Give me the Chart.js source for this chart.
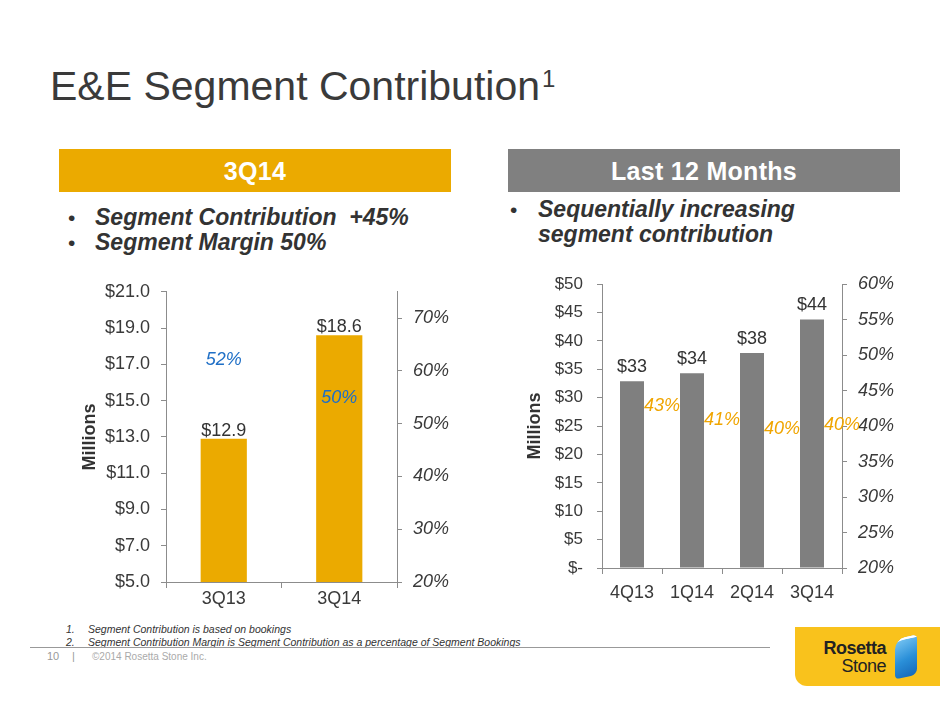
<!DOCTYPE html>
<html>
<head>
<meta charset="utf-8">
<title>E&amp;E Segment Contribution</title>
<script src="https://cdn.jsdelivr.net/npm/chart.js@4.4.0/dist/chart.umd.min.js"></script>
<style>
  body { margin: 0; background: #fff; font-family: "Liberation Sans", Arial, sans-serif; }
  #page { position: relative; width: 940px; height: 705px; overflow: hidden; background: #fff; }
  .abs { position: absolute; white-space: nowrap; }
  .title { left: 50px; top: 66px; font-size: 41px; line-height: 41px; color: #3a3a3a; }
  .title sup { font-size: 24px; vertical-align: top; line-height: 25px; margin-left: 2px; }
  .hdr { top: 149px; height: 43px; line-height: 43px; padding-top: 1px; box-sizing: border-box;
         color: #fff; font-weight: bold; font-size: 25px; letter-spacing: 0.3px; text-align: center; }
  .bullet { font-size: 23px; line-height: 25px; font-weight: bold; font-style: italic; color: #333; }
  .dot { font-style: normal; font-weight: normal; font-size: 21px; }
  .note { font-size: 10.5px; line-height: 13px; font-style: italic; color: #333; }
  .foot { font-size: 10px; line-height: 11px; color: #999; }
  .chartbox { position: absolute; }
  #logo { position: absolute; left: 795px; top: 627px; width: 145px; height: 59px; background: #f9c21c;
          border-bottom-left-radius: 12px; }
  #logo .t1 { position: absolute; right: 54px; top: 12px; font-size: 18px; font-weight: bold; color: #222; line-height: 18px; letter-spacing: -0.5px; }
  #logo .t2 { position: absolute; right: 54px; top: 30px; font-size: 18px; color: #222; line-height: 18px; letter-spacing: -0.5px; }
  #logo .stone { position: absolute; left: 100px; top: 10px; width: 22px; height: 40px; border-radius: 10px 4px 6px 4px;
                 background: linear-gradient(160deg, #7cc8f4 0%, #2a8fd8 55%, #1668b8 100%); transform: skewY(-12deg);
                 box-shadow: inset 0 12px 0 -10px #fff, inset 0 24px 0 -22px #fff; }
</style>
</head>
<body>
<div id="page">
  <div class="abs title">E&amp;E Segment Contribution<sup>1</sup></div>

  <div class="abs hdr" style="left:59px;width:392px;background:#ebaa00;">3Q14</div>
  <div class="abs hdr" style="left:508px;width:392px;background:#808080;">Last 12 Months</div>

  <div class="abs bullet" style="left:68px;top:205px;"><span class="dot">•</span></div>
  <div class="abs bullet" style="left:95px;top:205px;">Segment Contribution&nbsp;&nbsp;+45%</div>
  <div class="abs bullet" style="left:68px;top:230px;"><span class="dot">•</span></div>
  <div class="abs bullet" style="left:95px;top:230px;">Segment Margin 50%</div>

  <div class="abs bullet" style="left:510px;top:197px;"><span class="dot">•</span></div>
  <div class="abs bullet" style="left:538px;top:197px;">Sequentially increasing</div>
  <div class="abs bullet" style="left:538px;top:222px;">segment contribution</div>

  <div class="chartbox" style="left:40px;top:270px;width:430px;height:352px;"><canvas id="quarterChart"></canvas></div>
  <div class="chartbox" style="left:500px;top:260px;width:430px;height:348px;"><canvas id="ttmChart"></canvas></div>

  <div class="abs note" style="left:66px;top:623px;">1.</div>
  <div class="abs note" style="left:88px;top:623px;">Segment Contribution is based on bookings</div>
  <div class="abs note" style="left:66px;top:636px;">2.</div>
  <div class="abs note" style="left:88px;top:636px;">Segment Contribution Margin is Segment Contribution as a percentage of Segment Bookings</div>
  <div class="abs" style="left:30px;top:647px;width:740px;height:1px;background:#999;"></div>

  <div class="abs foot" style="left:47px;top:651px;font-size:11px;">10</div>
  <div class="abs foot" style="left:72px;top:651px;font-size:11px;">|</div>
  <div class="abs foot" style="left:92px;top:651px;color:#aaa;">©2014 Rosetta Stone Inc.</div>

  <div id="logo">
    <div class="t1">Rosetta</div>
    <div class="t2">Stone</div>
    <div class="stone"></div>
  </div>
</div>

<script>
  // 3Q14 chart
  const qCats = ['3Q13', '3Q14'];
  const qContribution = [12.9, 18.6];
  const qMargin = [52, 50];
  const qDollarTicks = [5, 7, 9, 11, 13, 15, 17, 19, 21];
  const qPctTicks = [20, 30, 40, 50, 60, 70];

  // last 12 months chart
  const ttmCats = ['4Q13', '1Q14', '2Q14', '3Q14'];
  const ttmContribution = [32.9, 34.3, 37.9, 43.8];
  const ttmMargin = [42.8, 40.9, 39.6, 40.2];
  const ttmDollarTicks = [0, 5, 10, 15, 20, 25, 30, 35, 40, 45, 50];
  const ttmPctTicks = [20, 25, 30, 35, 40, 45, 50, 55, 60];

  Chart.defaults.font.family = '"Liberation Sans", Arial, sans-serif';
  Chart.defaults.color = '#333';

  const AXIS = '#8c8c8c';

  // draws the value text for bars and the margin text for the hidden point series
  const valueLabels = {
    id: 'valueLabels',
    afterDatasetsDraw(chart) {
      const ctx = chart.ctx;
      const xs = chart.scales.x;
      const cat = xs.getPixelForValue(1) - xs.getPixelForValue(0);
      chart.data.datasets.forEach((ds, i) => {
        if (!ds.labelFormat) return;
        const meta = chart.getDatasetMeta(i);
        ctx.save();
        ctx.font = ds.labelFont;
        ctx.fillStyle = ds.labelColor;
        ctx.textAlign = 'center';
        meta.data.forEach((el, j) => {
          const txt = ds.labelFormat(ds.data[j]);
          if (ds.type === 'line') {
            ctx.textBaseline = 'middle';
            ctx.fillText(txt, el.x + cat * (ds.labelShift || 0), el.y);
          } else {
            ctx.textBaseline = 'alphabetic';
            ctx.fillText(txt, el.x, el.y - ds.labelGap);
          }
        });
        ctx.restore();
      });
    }
  };

  function fixedTicks(arr) {
    return (axis) => { axis.ticks = arr.map(v => ({ value: v })); };
  }

  function sideAxis(pos, min, max, ticks, fmt, font, pad, width, extra) {
    return Object.assign({
      position: pos,
      min: min,
      max: max,
      afterBuildTicks: fixedTicks(ticks),
      grid: { drawOnChartArea: false, drawTicks: true, tickLength: 5, color: AXIS },
      border: { color: AXIS, width: 1 },
      ticks: { callback: fmt, color: '#3a3a3a', font: font, padding: pad },
      afterFit: (s) => { s.width = width; }
    }, extra || {});
  }

  function xAxis(pad) {
    return {
      grid: { offset: true, drawOnChartArea: false, drawTicks: true, tickLength: 6, color: AXIS },
      border: { color: AXIS, width: 1 },
      ticks: { color: '#3a3a3a', font: { size: 18 }, padding: pad },
      afterFit: (s) => { s.height = 40; }
    };
  }

  new Chart(document.getElementById('quarterChart'), {
    type: 'bar',
    data: {
      labels: qCats,
      datasets: [{
        type: 'bar',
        data: qContribution,
        backgroundColor: '#ebaa00',
        barPercentage: 0.4,
        categoryPercentage: 1.0,
        yAxisID: 'y',
        labelFormat: (v) => '$' + v.toFixed(1),
        labelFont: '18px "Liberation Sans", Arial, sans-serif',
        labelColor: '#333',
        labelGap: 3
      }, {
        type: 'line',
        data: qMargin,
        showLine: false,
        pointRadius: 0,
        pointHitRadius: 0,
        yAxisID: 'yM',
        labelFormat: (v) => v + '%',
        labelFont: 'italic 18px "Liberation Sans", Arial, sans-serif',
        labelColor: '#1f6fc6',
        labelShift: 0
      }]
    },
    options: {
      responsive: true,
      maintainAspectRatio: false,
      animation: false,
      layout: { padding: { top: 18, left: 0, right: 0, bottom: 0 } },
      plugins: { legend: { display: false }, tooltip: { enabled: false } },
      scales: {
        x: xAxis(0),
        y: sideAxis('left', 5, 21, qDollarTicks, (v) => '$' + v.toFixed(1), { size: 18 }, 11, 126, {
          title: { display: true, text: 'Millions', color: '#333', font: { size: 18, weight: 'bold' }, padding: { top: 39, bottom: 0 } }
        }),
        y1: sideAxis('right', 20, 75, qPctTicks, (v) => v + '%', { size: 18, style: 'italic' }, 11, 73),
        yM: { display: false, min: 40.46, max: 55.54 }
      }
    },
    plugins: [valueLabels]
  });

  new Chart(document.getElementById('ttmChart'), {
    type: 'bar',
    data: {
      labels: ttmCats,
      datasets: [{
        type: 'bar',
        data: ttmContribution,
        backgroundColor: '#7f7f7f',
        barPercentage: 0.4,
        categoryPercentage: 1.0,
        yAxisID: 'y',
        labelFormat: (v) => '$' + Math.round(v),
        labelFont: '18px "Liberation Sans", Arial, sans-serif',
        labelColor: '#333',
        labelGap: 9
      }, {
        type: 'line',
        data: ttmMargin,
        showLine: false,
        pointRadius: 0,
        pointHitRadius: 0,
        yAxisID: 'y1',
        labelFormat: (v) => Math.round(v) + '%',
        labelFont: 'italic 18px "Liberation Sans", Arial, sans-serif',
        labelColor: '#f0a500',
        labelShift: 0.5
      }]
    },
    options: {
      responsive: true,
      maintainAspectRatio: false,
      animation: false,
      layout: { padding: { top: 18, left: 0, right: 0, bottom: 0 } },
      plugins: { legend: { display: false }, tooltip: { enabled: false } },
      scales: {
        x: xAxis(8),
        y: sideAxis('left', 0, 50, ttmDollarTicks, (v) => v === 0 ? '$-' : '$' + v, { size: 17 }, 14, 102, {
          title: { display: true, text: 'Millions', color: '#333', font: { size: 18, weight: 'bold' }, padding: { top: 24, bottom: 0 } }
        }),
        y1: sideAxis('right', 20, 60, ttmPctTicks, (v) => v + '%', { size: 18, style: 'italic' }, 11, 88)
      }
    },
    plugins: [valueLabels]
  });
</script>
</body>
</html>
